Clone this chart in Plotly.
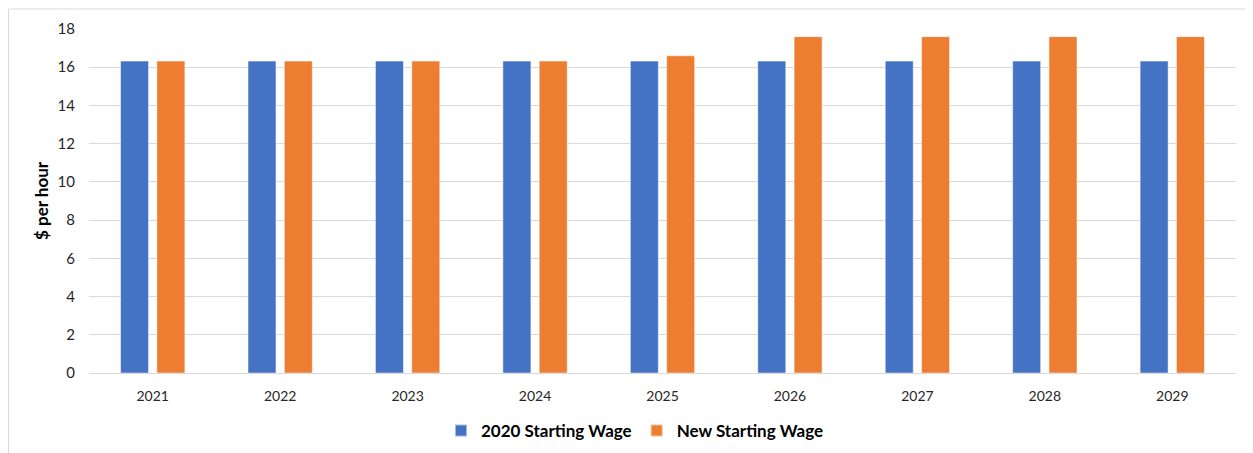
import plotly.graph_objects as go

years = ["2021", "2022", "2023", "2024", "2025", "2026", "2027", "2028", "2029"]
wage_2020 = [16.32, 16.32, 16.32, 16.32, 16.32, 16.32, 16.32, 16.32, 16.32]
wage_new = [16.32, 16.32, 16.32, 16.32, 16.6, 17.6, 17.6, 17.6, 17.6]

# page body has an 8px margin; size the figure so it fills the window
OFF = 8
W, H = 1253 - OFF, 453 - OFF
# plot area in page pixels: x 89..1236, y 29..373
L = 89 - OFF
R = 1253 - 1236
T = 29 - OFF
B = 453 - 373
pw = W - L - R
ph = H - T - B

def px_x(p):
    return (p - OFF - L) / pw

def px_y(p):
    return (H - B - (p - OFF)) / ph

fig = go.Figure()
fig.add_trace(go.Bar(x=years, y=wage_2020, name="2020 Starting Wage",
                     marker=dict(color="#4472C4", line=dict(color="rgba(255,255,255,0.5)", width=1))))
fig.add_trace(go.Bar(x=years, y=wage_new, name="New Starting Wage",
                     marker=dict(color="#ED7D31", line=dict(color="rgba(255,255,255,0.5)", width=1))))

fig.update_layout(
    width=W, height=H,
    margin=dict(l=L, r=R, t=T, b=B, autoexpand=False),
    paper_bgcolor="white", plot_bgcolor="white",
    barmode="group", bargap=0.43, bargroupgap=0.229,
    font=dict(family="Lato, 'Liberation Sans', sans-serif", color="#262626", size=14),
    xaxis=dict(showgrid=False, showline=True, linecolor="#D9D9D9", linewidth=1, automargin=False,
               ticks="", ticklabelstandoff=10, tickfont=dict(size=14, color="#262626")),
    yaxis=dict(range=[0, 18], dtick=2, showgrid=True, gridcolor="#D9D9D9", gridwidth=1, automargin=False,
               zeroline=False, showline=False, ticks="", ticklabelstandoff=13,
               tickfont=dict(size=15, color="#262626")),
    legend=dict(orientation="h", xref="container", x=(635 - OFF) / W, xanchor="center",
                yref="container", y=(H - (431 - OFF)) / H, yanchor="middle",
                font=dict(size=17, color="#000000", weight="bold"),
                traceorder="normal", itemsizing="constant"),
    annotations=[
        dict(text="<b>$ per hour</b>", xref="paper", yref="paper", x=px_x(41), y=px_y(201),
             xanchor="center", yanchor="middle", textangle=-90, showarrow=False,
             font=dict(size=17, color="#000000")),
    ],
    shapes=[
        dict(type="line", xref="paper", yref="paper", x0=px_x(8.5), x1=px_x(1260), y0=px_y(9), y1=px_y(9),
             line=dict(color="#D9D9D9", width=1)),
        dict(type="line", xref="paper", yref="paper", x0=px_x(8.5), x1=px_x(8.5), y0=px_y(9), y1=px_y(460),
             line=dict(color="#D9D9D9", width=1)),
    ],
)

fig.write_html("out.html")
